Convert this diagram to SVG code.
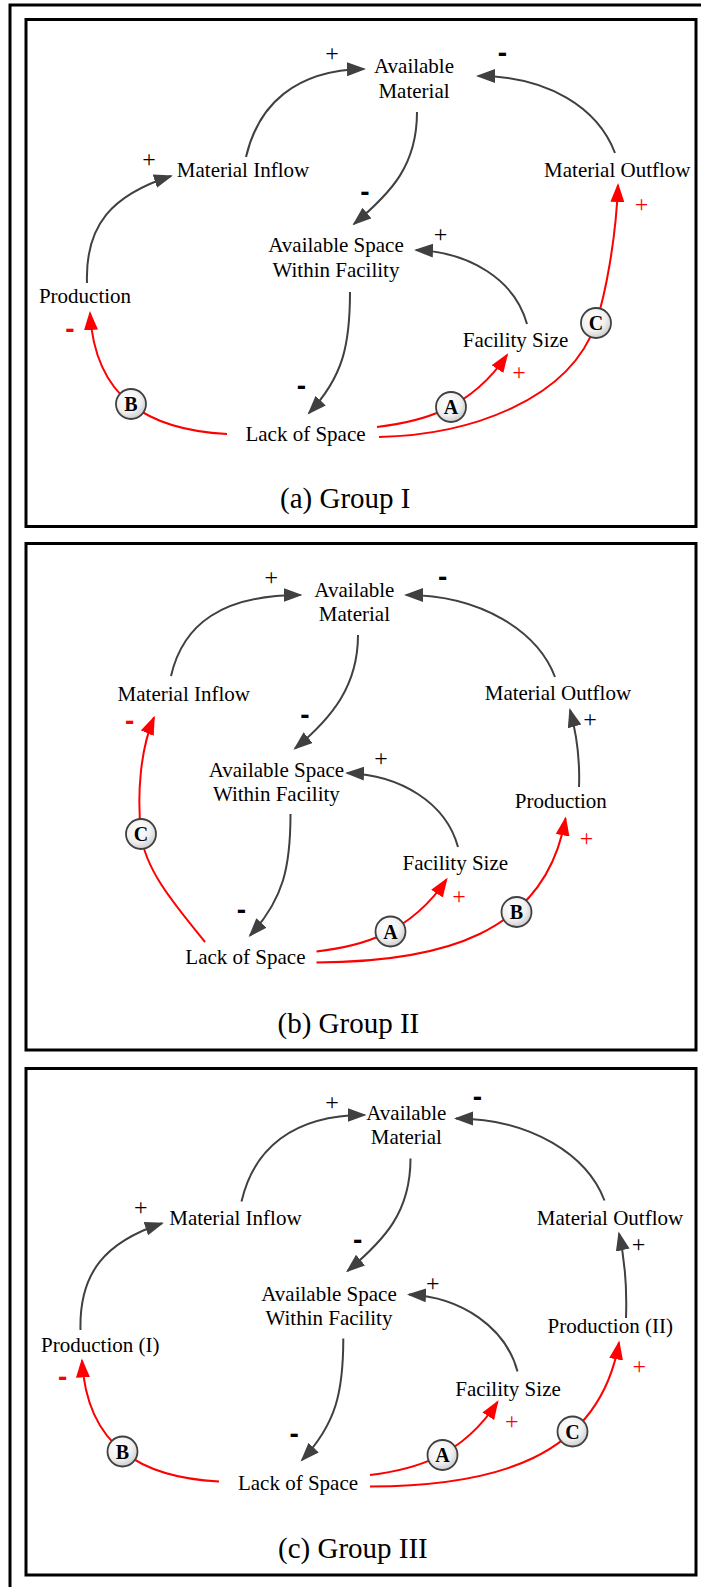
<svg xmlns="http://www.w3.org/2000/svg" width="701" height="1587" viewBox="0 0 701 1587">
<style>
.frame{fill:none;stroke:#000;stroke-width:3}
.node{font-family:"Liberation Serif","Times New Roman",serif;font-size:21px;fill:#000;text-anchor:middle}
.cap{font-family:"Liberation Serif","Times New Roman",serif;font-size:29px;fill:#000}
.lk{fill:none;stroke:#404040;stroke-width:2;marker-end:url(#ah)}
.lr{fill:none;stroke:#ff0000;stroke-width:2;marker-end:url(#ahr)}
.pl{font-family:"Liberation Serif","Times New Roman",serif;font-size:24px;text-anchor:middle}
.mn{font-family:"Liberation Sans",Arial,sans-serif;font-weight:bold;font-size:28px;text-anchor:middle}
.k{fill:#000}
.r{fill:#ff0000}
.loop circle{fill:url(#lg);stroke:#404040;stroke-width:1.8}
.loop text{font-family:"Liberation Serif","Times New Roman",serif;font-weight:bold;font-size:20px;text-anchor:middle;fill:#000}
</style>
<defs>
<marker id="ah" markerWidth="20" markerHeight="16" refX="17" refY="7" orient="auto" markerUnits="userSpaceOnUse"><path d="M0,0 L19,7 L0,14 z" fill="#404040"/></marker>
<marker id="ahr" markerWidth="20" markerHeight="16" refX="17" refY="7" orient="auto" markerUnits="userSpaceOnUse"><path d="M0,0 L19,7 L0,14 z" fill="#ff0000"/></marker>
<radialGradient id="lg" cx="40%" cy="35%" r="70%"><stop offset="0" stop-color="#ffffff"/><stop offset="0.6" stop-color="#f0f0f0"/><stop offset="1" stop-color="#c8c8c8"/></radialGradient>
</defs>
<rect width="701" height="1587" fill="#fff"/>
<rect class="frame" x="10" y="5" width="700" height="1600"/>

<!-- Panel (a) -->
<g id="panel-a">
<rect class="frame" x="26" y="19.5" width="670" height="507"/>
<g id="a-connectors">
<path class="lk" d="M246,157 C258,105 295,70 364,69"/>
<path class="lk" d="M417,112 C417,165 392,192 354,224"/>
<path class="lk" d="M615,153 C598,108 548,76 478,76"/>
<path class="lk" d="M527,324 C515,280 470,252 416,250"/>
<path class="lk" d="M350,292 C350,345 343,377 309,413"/>
<path class="lk" d="M87,283 C85,225 112,195 171,176"/>
<path class="lr" d="M227,434 C150,430 95,400 90,313"/>
<path class="lr" d="M377,427 C420,422 470,410 507,355"/>
<path class="lr" d="M379,437 C470,435 570,400 596,323 C605,296 616,240 618,185"/>
<text class="pl k" x="332" y="60.5">+</text>
<text class="mn k" x="502.5" y="62">-</text>
<text class="mn k" x="365" y="200.5">-</text>
<text class="pl k" x="440.5" y="242">+</text>
<text class="pl k" x="149" y="167">+</text>
<text class="mn k" x="301.5" y="394.5">-</text>
<text class="mn r" x="70" y="338">-</text>
<text class="pl r" x="519" y="379.5">+</text>
<text class="pl r" x="641.5" y="212">+</text>
</g>
<g id="a-loops" class="loop">
<g id="a-loop-B"><circle cx="131" cy="404" r="15"/><text x="131" y="411">B</text></g>
<g id="a-loop-A"><circle cx="451" cy="407" r="15"/><text x="451" y="414">A</text></g>
<g id="a-loop-C"><circle cx="596" cy="323" r="15"/><text x="596" y="330">C</text></g>
</g>
<g id="a-available-material"><text class="node" x="414" y="73.3">Available</text><text class="node" x="414" y="97.7">Material</text></g>
<g id="a-material-inflow"><text class="node" x="243" y="177.3">Material Inflow</text></g>
<g id="a-material-outflow"><text class="node" x="617.3" y="176.7">Material Outflow</text></g>
<g id="a-available-space"><text class="node" x="336" y="252.3">Available Space</text><text class="node" x="336" y="276.7">Within Facility</text></g>
<g id="a-production"><text class="node" x="85" y="302.7">Production</text></g>
<g id="a-facility-size"><text class="node" x="515.5" y="346.7">Facility Size</text></g>
<g id="a-lack-of-space"><text class="node" x="305.5" y="440.7">Lack of Space</text></g>
<g id="a-caption"><text class="cap" x="280" y="508.3">(a) Group I</text></g>
</g>

<!-- Panel (b) -->
<g id="panel-b">
<rect class="frame" x="26" y="543.5" width="670" height="506.5"/>
<g id="b-connectors">
<path class="lk" d="M171,676 C183,624 222,595 300.5,595"/>
<path class="lk" d="M358,635 C358,685 333,717 295,748.5"/>
<path class="lk" d="M555,677 C538,632 482,595 406,595"/>
<path class="lk" d="M458,847 C446,803 401,775 347,773"/>
<path class="lk" d="M290.5,814 C290.5,867 283.5,899 250,935.5"/>
<path class="lk" d="M579,787 C580,760 577,735 570,710"/>
<path class="lr" d="M205,942 C175,905 145,870 141,834 C137,795 140,750 154,717.5"/>
<path class="lr" d="M316.5,951.5 C359.5,946.5 409.5,934.5 446.5,879.5"/>
<path class="lr" d="M316.5,962.5 C440,962 545,935 565.5,818.5"/>
<text class="pl k" x="271.3" y="584.6">+</text>
<text class="mn k" x="442.6" y="586">-</text>
<text class="mn k" x="305" y="724.4">-</text>
<text class="pl k" x="381" y="766.3">+</text>
<text class="mn k" x="241.4" y="919.4">-</text>
<text class="pl k" x="590" y="727">+</text>
<text class="mn r" x="129.6" y="730.4">-</text>
<text class="pl r" x="459" y="903.6">+</text>
<text class="pl r" x="586.5" y="845.6">+</text>
</g>
<g id="b-loops" class="loop">
<g id="b-loop-C"><circle cx="141" cy="834" r="15"/><text x="141" y="841">C</text></g>
<g id="b-loop-A"><circle cx="390.5" cy="931.5" r="15"/><text x="390.5" y="938.5">A</text></g>
<g id="b-loop-B"><circle cx="516.5" cy="912" r="15"/><text x="516.5" y="919">B</text></g>
</g>
<g id="b-available-material"><text class="node" x="354.4" y="596.7">Available</text><text class="node" x="354.4" y="621">Material</text></g>
<g id="b-material-inflow"><text class="node" x="183.8" y="700.7">Material Inflow</text></g>
<g id="b-material-outflow"><text class="node" x="557.9" y="700">Material Outflow</text></g>
<g id="b-available-space"><text class="node" x="276.4" y="776.7">Available Space</text><text class="node" x="276.4" y="801">Within Facility</text></g>
<g id="b-production"><text class="node" x="560.8" y="808.3">Production</text></g>
<g id="b-facility-size"><text class="node" x="455.3" y="870">Facility Size</text></g>
<g id="b-lack-of-space"><text class="node" x="245.4" y="964">Lack of Space</text></g>
<g id="b-caption"><text class="cap" x="277.5" y="1032.5">(b) Group II</text></g>
</g>

<!-- Panel (c) -->
<g id="panel-c">
<rect class="frame" x="26" y="1068.5" width="670" height="506.5"/>
<g id="c-connectors">
<path class="lk" d="M241.5,1201.5 C253.5,1149.5 292,1115 364.5,1115"/>
<path class="lk" d="M410.5,1158.5 C410.5,1211.5 385.5,1239 347.5,1271"/>
<path class="lk" d="M604.5,1200.5 C587.5,1155.5 531.5,1118.5 456,1118.5"/>
<path class="lk" d="M517.5,1371.5 C506,1328 462,1297 409,1294.5"/>
<path class="lk" d="M343.3,1338.5 C343.3,1391.5 336.3,1423.5 302,1460"/>
<path class="lk" d="M80.5,1330 C79,1272 106,1242 162,1223.3"/>
<path class="lk" d="M626,1318 C627,1290 625,1260 619,1233.5"/>
<path class="lr" d="M219,1481.5 C142,1477.5 87,1447.5 82,1360.5"/>
<path class="lr" d="M370,1475 C412,1470 461,1458 497.5,1402"/>
<path class="lr" d="M370,1486.5 C493.5,1486 598.5,1459 619,1342.5"/>
<text class="pl k" x="332.1" y="1109.6">+</text>
<text class="mn k" x="477.4" y="1106.4">-</text>
<text class="mn k" x="357.6" y="1249.4">-</text>
<text class="pl k" x="432.7" y="1290.6">+</text>
<text class="mn k" x="294.1" y="1443.1">-</text>
<text class="pl k" x="140.8" y="1215.3">+</text>
<text class="pl k" x="638.4" y="1252">+</text>
<text class="mn r" x="62.6" y="1386.4">-</text>
<text class="pl r" x="511.8" y="1428.6">+</text>
<text class="pl r" x="639.2" y="1373.6">+</text>
</g>
<g id="c-loops" class="loop">
<g id="c-loop-B"><circle cx="122.5" cy="1451.5" r="15"/><text x="122.5" y="1458.5">B</text></g>
<g id="c-loop-A"><circle cx="442.5" cy="1455" r="15"/><text x="442.5" y="1462">A</text></g>
<g id="c-loop-C"><circle cx="572.5" cy="1431.5" r="15"/><text x="572.5" y="1438.5">C</text></g>
</g>
<g id="c-available-material"><text class="node" x="406.3" y="1120">Available</text><text class="node" x="406.3" y="1144.4">Material</text></g>
<g id="c-material-inflow"><text class="node" x="235.4" y="1225">Material Inflow</text></g>
<g id="c-material-outflow"><text class="node" x="610" y="1225">Material Outflow</text></g>
<g id="c-available-space"><text class="node" x="329" y="1301">Available Space</text><text class="node" x="329" y="1325.4">Within Facility</text></g>
<g id="c-production-i"><text class="node" x="100.3" y="1351.7">Production (I)</text></g>
<g id="c-production-ii"><text class="node" x="610.2" y="1333.3">Production (II)</text></g>
<g id="c-facility-size"><text class="node" x="508" y="1396">Facility Size</text></g>
<g id="c-lack-of-space"><text class="node" x="298" y="1490">Lack of Space</text></g>
<g id="c-caption"><text class="cap" x="278" y="1557.5">(c) Group III</text></g>
</g>
</svg>
